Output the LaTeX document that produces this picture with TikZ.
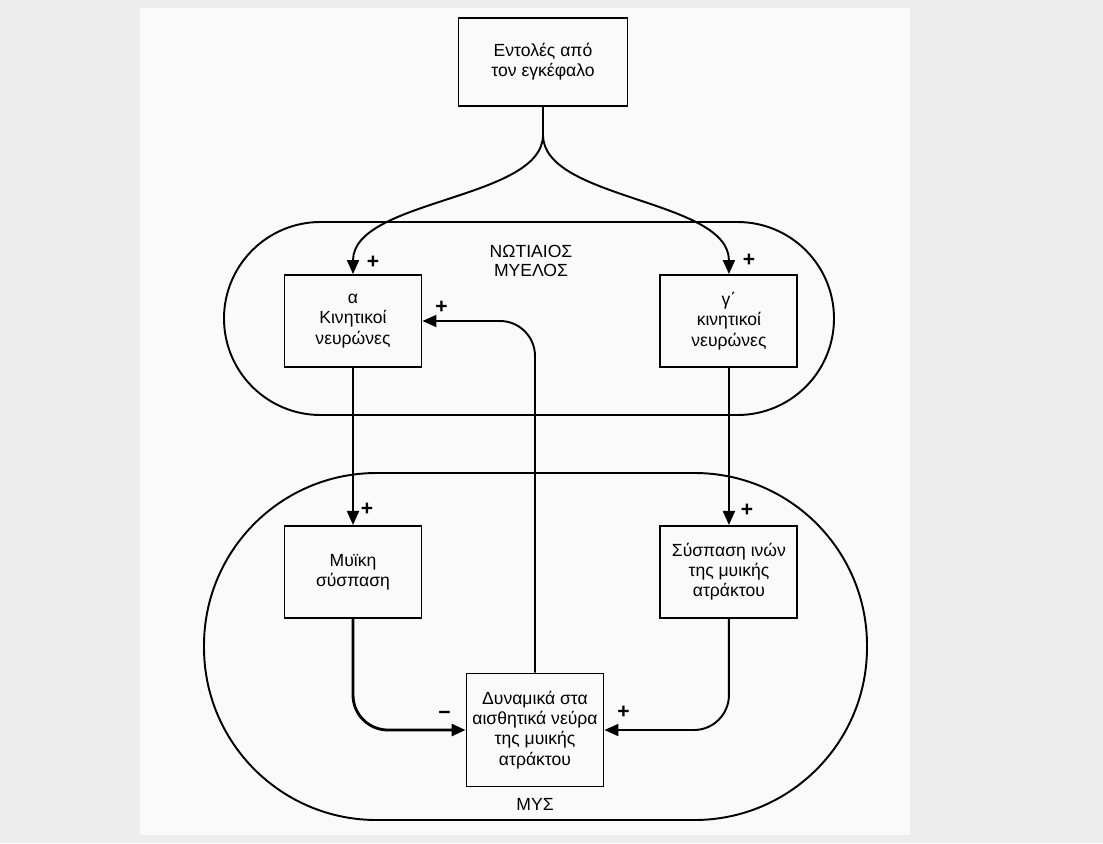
\documentclass[tikz,border=0pt]{standalone}
\usepackage{fontspec}
\setmainfont{Liberation Sans}
\usetikzlibrary{arrows.meta}
\usetikzlibrary{positioning}

\tikzset{
  nbox/.style={draw, line width=1.1pt, minimum width=2.74cm, minimum height=1.84cm,
    align=center, inner sep=2pt, font=\fontsize{10}{11.5}\selectfont},
  sgn/.style={inner sep=0pt, font=\fontsize{12}{12}\selectfont\bfseries},
  arr/.style={line width=1.1pt, -{Triangle[length=2.8mm,width=2.4mm]}},
  shell/.style={line width=1.1pt},
  tag/.style={align=center, font=\fontsize{10}{11}\selectfont}
}

\begin{document}
\begin{tikzpicture}
    % scanned page
    \fill[black!7] (0,0) rectangle (22.06,-16.86);
    \fill[black!2] (2.8,-0.16) rectangle (18.2,-16.7);
    \useasboundingbox (0,0) rectangle (22.06,-16.86);

    \node[nbox, minimum width=3.38cm, minimum height=1.76cm] (cmd) at (10.86,-1.24) {Εντολές από\\τον εγκέφαλο};
    \node[nbox] (alpha) at (7.06,-6.42) {α\\Κινητικοί\\νευρώνες};
    \node[nbox, right=4.74cm of alpha] (gamma) {γ΄\\κινητικοί\\νευρώνες};
    \node[nbox, below=3.14cm of alpha] (musc) {Μυϊκη\\σύσπαση};
    \node[nbox, below=3.14cm of gamma] (spind) {Σύσπαση ινών\\της μυικής\\ατράκτου};
    \node[nbox, minimum height=2.26cm] (sens) at (10.7,-14.6) {Δυναμικά στα\\αισθητικά νεύρα\\της μυικής\\ατράκτου};

    % spinal cord and muscle
    \draw[shell, rounded corners=1.93cm] (4.48,-4.44) rectangle (16.68,-8.30);
    \node[tag] (cord) at (10.62,-5.22) {ΝΩΤΙΑΙΟΣ\\ΜΥΕΛΟΣ};
    \draw[shell, rounded corners=3.45cm] (4.08,-9.46) rectangle (17.34,-16.4);
    \node[tag] (mys) at (10.7,-16.08) {ΜΥΣ};

    \coordinate (split) at ([yshift=-0.56cm]cmd.south);
    \draw[shell] (cmd.south) -- (split);
    \draw[arr] (split) .. controls +(0,-1.3) and +(0,1.5) .. (alpha.north);
    \draw[arr] (split) .. controls +(0,-1.3) and +(0,1.5) .. (gamma.north);

    \draw[arr] (alpha) -- (musc);
    \draw[arr] (gamma) -- (spind);
    \draw[arr, rounded corners=0.7cm] (sens.north) |- (alpha.east);
    \draw[arr, line width=1.6pt, rounded corners=0.7cm] (musc.south) |- (sens.west);
    \draw[arr, rounded corners=0.7cm] (spind.south) |- (sens.east);

    \node[sgn] (pa) at ([shift={(0.4,0.24)}]alpha.north) {+};
    \node[sgn] (pg) at ([shift={(0.4,0.28)}]gamma.north) {+};
    \node[sgn] (pm) at ([shift={(0.28,0.32)}]musc.north) {+};
    \node[sgn] (ps) at ([shift={(0.36,0.30)}]spind.north) {+};
    \node[sgn] (pf) at ([shift={(0.38,0.28)}]alpha.east) {+};
    \node[sgn] (mn) at ([shift={(-0.42,0.30)}]sens.west) {−};
    \node[sgn] (pr) at ([shift={(0.38,0.36)}]sens.east) {+};
\end{tikzpicture}
\end{document}
